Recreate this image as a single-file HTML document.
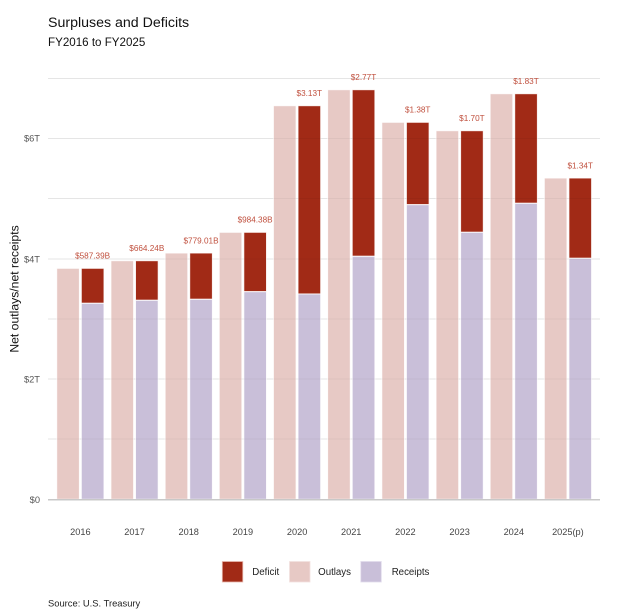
<!DOCTYPE html>
<html>
<head>
<meta charset="utf-8">
<style>
  html, body { margin: 0; padding: 0; background: #ffffff; }
  body { width: 640px; height: 611px; overflow: hidden; }
  svg { display: block; font-family: "Liberation Sans", "DejaVu Sans", sans-serif; }
</style>
</head>
<body>
<svg width="640" height="611" viewBox="0 0 640 611" xmlns="http://www.w3.org/2000/svg">
  <rect width="640" height="611" fill="#ffffff"/>

  <text x="48" y="27" font-size="14.2" fill="#111">Surpluses and Deficits</text>
  <text x="48" y="46" font-size="11.6" fill="#111">FY2016 to FY2025</text>

  <text transform="translate(18.5,289) rotate(-90)" text-anchor="middle" font-size="12.2" fill="#111">Net outlays/net receipts</text>

  <g font-size="9.3" fill="#555" text-anchor="end">
    <text x="40" y="141.3">$6T</text>
    <text x="40" y="262.3">$4T</text>
    <text x="40" y="382.3">$2T</text>
    <text x="40" y="502.8">$0</text>
  </g>

  <g stroke="#efefef" stroke-width="1">
    <line x1="48" x2="600" y1="78.5" y2="78.5"/>
    <line x1="48" x2="600" y1="138.5" y2="138.5"/>
    <line x1="48" x2="600" y1="198.5" y2="198.5"/>
    <line x1="48" x2="600" y1="259" y2="259"/>
    <line x1="48" x2="600" y1="319" y2="319"/>
    <line x1="48" x2="600" y1="379" y2="379"/>
    <line x1="48" x2="600" y1="439" y2="439"/>
  </g>

  <g stroke="#ffffff" stroke-opacity="0.85" stroke-width="1">
    <rect x="56.7" y="268.3" width="22.7" height="231" fill="#e7c9c5"/>
    <rect x="81.3" y="268.3" width="22.7" height="35" fill="#a12a16"/>
    <rect x="81.3" y="303.3" width="22.7" height="196" fill="#c9bfd9"/>

    <rect x="110.9" y="260.7" width="22.7" height="238.6" fill="#e7c9c5"/>
    <rect x="135.5" y="260.7" width="22.7" height="39.6" fill="#a12a16"/>
    <rect x="135.5" y="300.3" width="22.7" height="199" fill="#c9bfd9"/>

    <rect x="165.1" y="253" width="22.7" height="246.3" fill="#e7c9c5"/>
    <rect x="189.7" y="253" width="22.7" height="46.3" fill="#a12a16"/>
    <rect x="189.7" y="299.3" width="22.7" height="200" fill="#c9bfd9"/>

    <rect x="219.2" y="232.3" width="22.7" height="267" fill="#e7c9c5"/>
    <rect x="243.8" y="232.3" width="22.7" height="59.4" fill="#a12a16"/>
    <rect x="243.8" y="291.7" width="22.7" height="207.6" fill="#c9bfd9"/>

    <rect x="273.4" y="105.7" width="22.7" height="393.6" fill="#e7c9c5"/>
    <rect x="298" y="105.7" width="22.7" height="188.3" fill="#a12a16"/>
    <rect x="298" y="294" width="22.7" height="205.3" fill="#c9bfd9"/>

    <rect x="327.6" y="89.7" width="22.7" height="409.6" fill="#e7c9c5"/>
    <rect x="352.2" y="89.7" width="22.7" height="166.6" fill="#a12a16"/>
    <rect x="352.2" y="256.3" width="22.7" height="243" fill="#c9bfd9"/>

    <rect x="381.8" y="122.3" width="22.7" height="377" fill="#e7c9c5"/>
    <rect x="406.4" y="122.3" width="22.7" height="82.4" fill="#a12a16"/>
    <rect x="406.4" y="204.7" width="22.7" height="294.6" fill="#c9bfd9"/>

    <rect x="436" y="130.7" width="22.7" height="368.6" fill="#e7c9c5"/>
    <rect x="460.6" y="130.7" width="22.7" height="101.6" fill="#a12a16"/>
    <rect x="460.6" y="232.3" width="22.7" height="267" fill="#c9bfd9"/>

    <rect x="490.1" y="93.7" width="22.7" height="405.6" fill="#e7c9c5"/>
    <rect x="514.7" y="93.7" width="22.7" height="109.6" fill="#a12a16"/>
    <rect x="514.7" y="203.3" width="22.7" height="296" fill="#c9bfd9"/>

    <rect x="544.3" y="178" width="22.7" height="321.3" fill="#e7c9c5"/>
    <rect x="568.9" y="178" width="22.7" height="80.3" fill="#a12a16"/>
    <rect x="568.9" y="258.3" width="22.7" height="241" fill="#c9bfd9"/>
  </g>

  <g stroke="#000000" stroke-opacity="0.04" stroke-width="1">
    <line x1="48" x2="600" y1="78.5" y2="78.5"/>
    <line x1="48" x2="600" y1="138.5" y2="138.5"/>
    <line x1="48" x2="600" y1="198.5" y2="198.5"/>
    <line x1="48" x2="600" y1="259" y2="259"/>
    <line x1="48" x2="600" y1="319" y2="319"/>
    <line x1="48" x2="600" y1="379" y2="379"/>
    <line x1="48" x2="600" y1="439" y2="439"/>
  </g>

  <line x1="48" x2="600" y1="499.8" y2="499.8" stroke="#c8c8c8" stroke-width="1.5"/>

  <g font-size="8.2" fill="#c0503e" text-anchor="middle">
    <text x="92.6" y="258.7">$587.39B</text>
    <text x="146.8" y="251.1">$664.24B</text>
    <text x="201" y="243.4">$779.01B</text>
    <text x="255.1" y="222.7">$984.38B</text>
    <text x="309.3" y="96.1">$3.13T</text>
    <text x="363.5" y="80.1">$2.77T</text>
    <text x="417.7" y="112.7">$1.38T</text>
    <text x="471.9" y="121.1">$1.70T</text>
    <text x="526" y="84.1">$1.83T</text>
    <text x="580.2" y="168.4">$1.34T</text>
  </g>

  <g font-size="9.2" fill="#444" text-anchor="middle">
    <text x="80.4" y="535">2016</text>
    <text x="134.5" y="535">2017</text>
    <text x="188.7" y="535">2018</text>
    <text x="242.9" y="535">2019</text>
    <text x="297.1" y="535">2020</text>
    <text x="351.2" y="535">2021</text>
    <text x="405.4" y="535">2022</text>
    <text x="459.6" y="535">2023</text>
    <text x="513.8" y="535">2024</text>
    <text x="567.9" y="535">2025(p)</text>
  </g>

  <rect x="222.3" y="561.5" width="20.5" height="20.5" fill="#a12a16" stroke="#e8b8ae" stroke-width="0.8"/>
  <text x="252.3" y="575" font-size="9.7" fill="#222">Deficit</text>
  <rect x="289.5" y="561.5" width="20.5" height="20.5" fill="#e7c9c5" stroke="#f3e2df" stroke-width="0.8"/>
  <text x="351" y="575" font-size="9.7" fill="#222" text-anchor="end">Outlays</text>
  <rect x="360.8" y="561.5" width="20.5" height="20.5" fill="#c9bfd9" stroke="#e2dcec" stroke-width="0.8"/>
  <text x="391.7" y="575" font-size="9.7" fill="#222">Receipts</text>

  <text x="48" y="606.5" font-size="9.4" fill="#222">Source: U.S. Treasury</text>
</svg>
</body>
</html>
